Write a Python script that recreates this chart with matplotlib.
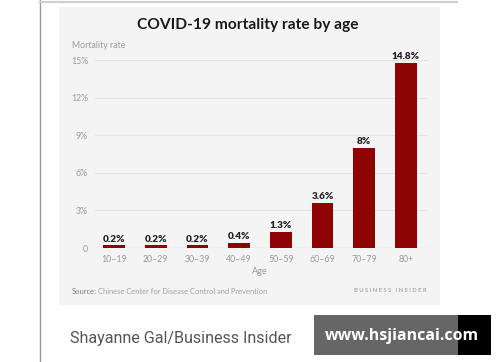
import matplotlib
matplotlib.use('Agg')
import matplotlib.pyplot as plt
from matplotlib.patches import Rectangle

# Dados do gráfico
faixas = ['10–19', '20–29', '30–39', '40–49', '50–59', '60–69', '70–79', '80+']
taxas = [0.2, 0.2, 0.2, 0.4, 1.3, 3.6, 8, 14.8]
rotulos = ['0.2%', '0.2%', '0.2%', '0.4%', '1.3%', '3.6%', '8%', '14.8%']
ticks_y = [0, 3, 6, 9, 12, 15]
ticks_y_txt = ['0', '3%', '6%', '9%', '12%', '15%']

W, H = 500, 362
fig = plt.figure(figsize=(W / 100, H / 100), dpi=100)
fig.patch.set_facecolor('white')

def fx(px):
    return px / W

def fy(py):
    return 1 - py / H

# Moldura externa e painel cinza
fig.add_artist(plt.Line2D([fx(40), fx(40)], [0, 1], color='#9a9a9a', lw=1.0))
fig.add_artist(plt.Line2D([fx(40), fx(457)], [fy(2), fy(2)], color='#cfcfcf', lw=1.5))
fig.add_artist(Rectangle((fx(59), fy(305)), fx(440) - fx(59), fy(7) - fy(305),
                         transform=fig.transFigure, facecolor='#f4f4f4', edgecolor='none', zorder=0))

# Eixo principal
ax = fig.add_axes([fx(95), fy(248), fx(428) - fx(95), fy(60) - fy(248)])
ax.set_facecolor('none')
x = list(range(len(faixas)))
ax.bar(x, taxas, width=0.52, color='#8e0303', zorder=3)
for xi, v, r in zip(x, taxas, rotulos):
    ax.text(xi, v + 0.12, r, ha='center', va='bottom', fontsize=7.2,
            fontweight='heavy', color='#222222', family='Lato', zorder=4)

ax.set_xlim(-0.456, 7.53)
ax.set_ylim(0, 15)
ax.set_yticks(ticks_y)
ax.set_yticklabels(ticks_y_txt)
ax.set_xticks(x)
ax.set_xticklabels(faixas)
ax.tick_params(axis='both', length=0, labelsize=6.3, labelcolor='#9a9a9a')
ax.tick_params(axis='y', pad=5)
ax.tick_params(axis='x', pad=5)
for lab in ax.get_xticklabels() + ax.get_yticklabels():
    lab.set_family('Lato')
ax.grid(axis='y', color='#e2e2e2', lw=0.8, zorder=0)
for s in ax.spines.values():
    s.set_visible(False)
ax.axhline(0, color='#d5d5d5', lw=0.9, zorder=2)

# Textos
fig.text(fx(248), fy(25), 'COVID-19 mortality rate by age', ha='center', va='center',
         fontsize=11.2, fontweight='bold', color='#1a1a1a', family='Lato')
fig.text(fx(72), fy(45), 'Mortality rate', ha='left', va='center',
         fontsize=6.3, color='#9a9a9a', family='Lato')
fig.text(fx(260), fy(272), 'Age', ha='center', va='center',
         fontsize=6.5, color='#9a9a9a', family='Lato')
fig.text(fx(72), fy(291), 'Source:', ha='left', va='center',
         fontsize=5.4, color='#777777', family='Lato')
fig.text(fx(98.5), fy(291), 'Chinese Center for Disease Control and Prevention', ha='left', va='center',
         fontsize=5.4, color='#a0a0a0', family='Lato')
fig.text(fx(427), fy(291), 'B U S I N E S S   I N S I D E R', ha='right', va='center',
         fontsize=4.2, color='#a8a8a8', fontweight='bold', family='Lato')

# Legenda de crédito
fig.text(fx(70), fy(339), 'Shayanne Gal/Business Insider', ha='left', va='center',
         fontsize=11.6, color='#555555', family='Roboto')

# Marca d'água
fig.add_artist(Rectangle((fx(314), fy(355)), fx(458) - fx(314), fy(315) - fy(355),
                         transform=fig.transFigure, facecolor='#666666', edgecolor='none'))
fig.add_artist(Rectangle((fx(458), fy(355)), fx(491) - fx(458), fy(315) - fy(355),
                         transform=fig.transFigure, facecolor='#000000', edgecolor='none'))
fig.text(fx(402), fy(336), 'www.hsjiancai.com', ha='center', va='center',
         fontsize=11.4, fontweight='bold', color='white', family='Open Sans')

fig.savefig('out.png', dpi=100)
